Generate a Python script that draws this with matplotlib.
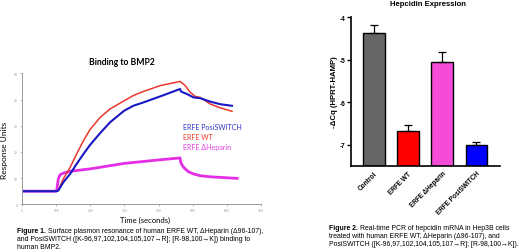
import matplotlib.pyplot as plt

# Figure 1: SPR sensorgram (time in s, response in arbitrary units)
wt_t = [4, 100, 106, 121, 141, 160, 180, 199, 229, 258, 299, 326, 356, 405,
        463, 478, 493, 507, 522, 551, 581, 615]
wt_y = [5, 5, 5.2, 9.7, 14.1, 19.2, 24.3, 28.5, 33.2, 36.4, 39.5, 41.5, 43.1,
        45.3, 46.9, 45.3, 42.7, 41.2, 40.8, 38.3, 36.8, 35.5]

posi_t = [4, 100, 106, 121, 141, 160, 180, 199, 229, 258, 299, 326, 356, 405,
          463, 466, 483, 502, 522, 551, 581, 615]
posi_y = [5, 5, 5.2, 8.4, 11.6, 15.4, 19.2, 22.6, 27.2, 31.3, 35.7, 37.6, 38.9,
          41.2, 44.0, 43.0, 42.1, 40.8, 40.5, 39.2, 38.2, 37.6]

hep_t = [4, 100, 102, 103.5, 106.5, 111, 121, 141, 199, 299, 405, 463, 465,
         471, 478, 488, 502, 522, 551, 590, 630]
hep_y = [5, 5, 5.2, 7.1, 9.7, 11.2, 11.9, 12.6, 13.5, 15.6, 17.0, 17.7, 16.0,
         14.5, 13.5, 12.4, 11.6, 10.9, 10.5, 10.2, 9.9]

# Figure 2: hepcidin qPCR
groups = ["Control", "ERFE WT", "ERFE ΔHeparin", "ERFE PosiSWITCH"]
dcq = [-4.38, -6.67, -5.05, -7.00]
sem = [0.20, 0.14, 0.22, 0.06]
bar_colors = ["#666666", "#ff0000", "#f64bd8", "#0000ff"]

fig = plt.figure(figsize=(5.2, 2.53), dpi=100)
W, H = 520, 253
renderer = fig.canvas.get_renderer()


def px_axes(x0, y0, x1, y1):
    return fig.add_axes([x0 / W, 1 - y1 / H, (x1 - x0) / W, (y1 - y0) / H])


def caption(x, y, label, lines, size=4.95):
    lab = fig.text(x / W, 1 - y / H, label, family="Liberation Sans",
                   weight="bold", fontsize=size, va="center")
    x_end = lab.get_window_extent(renderer).x1 + 2
    fig.text(x_end / W, 1 - y / H, lines[0], family="Liberation Sans",
             fontsize=size, va="center")
    for i, line in enumerate(lines[1:], start=1):
        fig.text(x / W, 1 - (y + 8 * i) / H, line, family="Liberation Sans",
                 fontsize=size, va="center")


# ---- left panel ----
ax1 = px_axes(22, 74.3, 261, 205.3)
ax1.plot(hep_t, hep_y, color="#e42ee6", lw=2.0)
ax1.plot(wt_t, wt_y, color="#e8382c", lw=1.1)
ax1.plot(posi_t, posi_y, color="#1818c4", lw=1.5)
ax1.set_xlim(0, 700)
ax1.set_ylim(0, 50)
ax1.set_xticks(range(0, 701, 100))
ax1.set_yticks(range(0, 51, 10))
ax1.tick_params(labelsize=2.2, labelcolor="#999999", color="#999999",
                length=1.5, width=0.5, pad=1.5)
for s in ["top", "right"]:
    ax1.spines[s].set_visible(False)
for s in ["left", "bottom"]:
    ax1.spines[s].set_color("#999999")
    ax1.spines[s].set_linewidth(0.7)

lato = "Lato"
fig.text(122 / W, 1 - 62.5 / H, "Binding to BMP2", family=lato, weight="bold",
         fontsize=6.2, ha="center", va="center")
fig.text(5 / W, 1 - 150 / H, "Response Units", family=lato, fontsize=6,
         rotation=90, ha="center", va="center")
fig.text(145 / W, 1 - 220 / H, "Time (seconds)", family=lato, fontsize=5.5,
         ha="center", va="center")
fig.text(183 / W, 1 - 127.7 / H, "ERFE PosiSWITCH", family=lato, fontsize=5.1,
         color="#3535cc", va="center")
fig.text(183 / W, 1 - 137.7 / H, "ERFE WT", family=lato, fontsize=5.1,
         color="#e83b2c", va="center")
fig.text(183 / W, 1 - 147.3 / H, "ERFE ΔHeparin", family=lato, fontsize=5.1,
         color="#e23fe0", va="center")

caption(17, 232, "Figure 1.",
        ["Surface plasmon resonance of human ERFE WT, ΔHeparin (Δ96-107),",
         "and PosiSWITCH ([K-96,97,102,104,105,107→R]; [R-98,100→K]) binding to",
         "human BMP2."])

# ---- right panel ----
ax2 = px_axes(351, 18.3, 500, 166.7)
base = -7.5
x = range(len(groups))
ax2.bar(x, [v - base for v in dcq], bottom=base, width=0.63,
        color=bar_colors, edgecolor="black", linewidth=1.0)
ax2.errorbar(x, dcq, yerr=[[0] * len(sem), sem], fmt="none", ecolor="black",
             elinewidth=0.9, capsize=3, capthick=0.9)
ax2.set_xlim(-0.67, 3.69)
ax2.set_ylim(base, -4)
ax2.set_yticks([-7, -6, -5, -4])
ax2.set_yticklabels(["-7", "-6", "-5", "-4"])
ax2.set_xticks(list(x))
ax2.set_xticklabels(groups, rotation=45, ha="right", rotation_mode="anchor")
for lab in ax2.get_xticklabels() + ax2.get_yticklabels():
    lab.set_family("Liberation Sans")
    lab.set_weight("bold")
    lab.set_fontsize(4.7)
ax2.tick_params(axis="y", length=3, width=1.0, pad=1)
ax2.tick_params(axis="x", length=0, pad=3)
for s in ["top", "right"]:
    ax2.spines[s].set_visible(False)
for s in ["left", "bottom"]:
    ax2.spines[s].set_linewidth(1.2)

fig.text(428 / W, 1 - 5 / H, "Hepcidin Expression", family="Liberation Sans",
         weight="bold", fontsize=5.6, ha="center", va="center")
fig.text(334 / W, 1 - 92 / H, "-ΔCq (HPRT-HAMP)", family="Liberation Sans",
         weight="bold", fontsize=5.6, rotation=90, ha="center", va="center")

caption(329, 228.5, "Figure 2.",
        ["Real-time PCR of hepcidin mRNA in Hep3B cells",
         "treated with human ERFE WT, ΔHeparin (Δ96-107), and",
         "PosiSWITCH ([K-96,97,102,104,105,107→R]; [R-98,100→K])."])

fig.savefig("out.png", dpi=100)
